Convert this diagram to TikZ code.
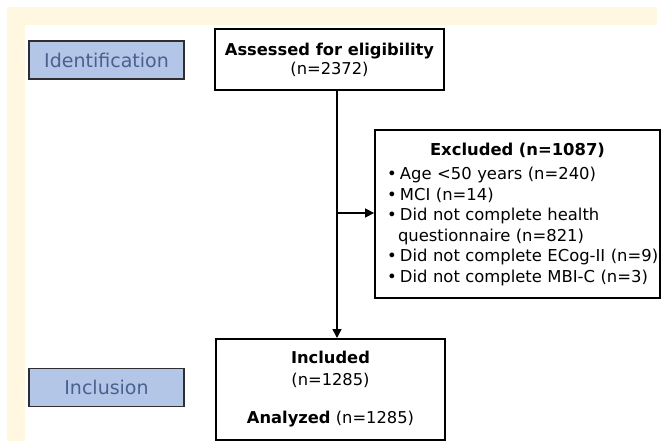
\documentclass[tikz,border=0pt]{standalone}
\usepackage{fontspec}
\setmainfont{DejaVu Sans}
\usetikzlibrary{arrows.meta, backgrounds}
\definecolor{bandcream}{HTML}{FFF7E0}
\definecolor{phasefill}{HTML}{B4C6E7}
\definecolor{phasetext}{HTML}{4A6190}
\definecolor{phaseline}{HTML}{2E2E2E}
\newcommand{\excitem}[1]{\noindent\hspace*{12pt}\makebox[13pt][l]{\textbullet}\mbox{#1}\par}
\newcommand{\exccont}[1]{\noindent\hspace*{23pt}\mbox{#1}\par}
\tikzset{
  phase/.style = {
    rectangle, draw=phaseline, line width=1.4pt, fill=phasefill,
    minimum width=155pt, minimum height=38pt,
    text=phasetext, font=\fontsize{19}{22}\selectfont
  },
  stage/.style = {
    rectangle, draw=black, line width=2pt, fill=white,
    minimum width=229pt, align=center,
    font=\fontsize{16.3}{20}\selectfont
  },
  exclbox/.style = {
    rectangle, draw=black, line width=1.8pt, fill=white,
    minimum width=285pt, minimum height=168pt, inner xsep=0pt,
    text width=285pt, align=left,
    font=\fontsize{16.4}{20.5}\selectfont
  },
  conn/.style = { draw=black, line width=1.5pt,
    -{Triangle[length=9pt, width=9pt]} }
}

\begin{document}
\begin{tikzpicture}[x=1pt, y=-1pt]

    \useasboundingbox (0,0) rectangle (661,441);

    % ------------------------------------------------------------- Phases
    \node [phase] (ident)     at (106.5, 60)  {Identification};
    \node [phase] (inclusion) at (106.5, 387.5) {Inclusion};

    % ------------------------------------------------------------- Stages
    \node [stage, minimum height=61pt] (assessed) at (329.5, 59.5)
      {\textbf{Assessed for eligibility}\\[-1pt](n=2372)};
    \node [stage, minimum height=101pt] (included) at (330.5, 389.5)
      {\textbf{Included}\\[2pt](n=1285)\\[18pt]\textbf{Analyzed} (n=1285)};

    % ----------------------------------------------------------- Excluded
    \node [exclbox] (excluded) at (517.5, 214) {%
      {\centering\bfseries Excluded (n=1087)\par}\vspace{4pt}
      \excitem{Age <50 years (n=240)}
      \excitem{MCI (n=14)}
      \excitem{Did not complete health}
      \exccont{questionnaire (n=821)}
      \excitem{Did not complete ECog-II (n=9)}
      \excitem{Did not complete MBI-C (n=3)}};

    \coordinate (split) at (337, 213);

    % ---------------------------------------------------------- Connectors
    \draw [conn] (assessed.south -| split) -- (included.north -| split);
    \draw [conn] (split) -- (excluded.west |- split);

    % ------------------------------------------------------ Frame (behind)
    \begin{scope}[on background layer]
      \fill [bandcream] (7,7) rectangle (657,25);
      \fill [bandcream] (7,7) rectangle (25,441);
    \end{scope}

  \end{tikzpicture}
\end{document}
